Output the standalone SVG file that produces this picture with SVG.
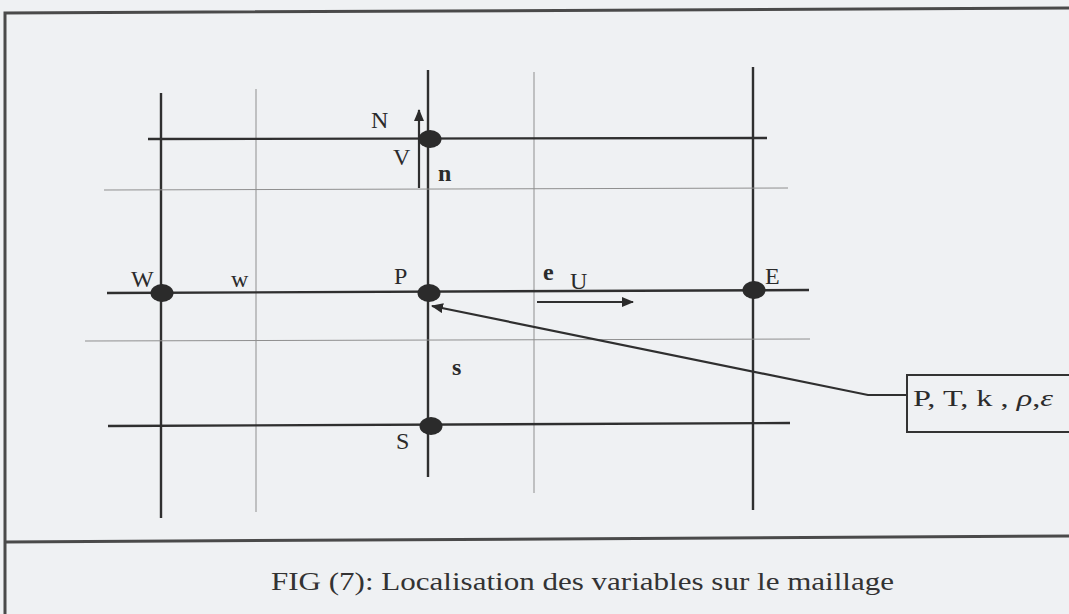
<svg xmlns="http://www.w3.org/2000/svg" width="1069" height="614" viewBox="0 0 1069 614">
<style>
.bg{fill:#eff1f3}
.frame{fill:none;stroke:#4a4a4a;stroke-width:3}
.thick{stroke:#2f2f2f;stroke-width:2.4;fill:none}
.thin{stroke:#8f8f8f;stroke-width:1;fill:none}
.dot{fill:#2b2b2b}
.lbl{font-family:"Liberation Serif","Times New Roman",serif;font-size:24px;fill:#2b2b2b}
.b{font-weight:bold}
.cap{font-family:"Liberation Serif","Times New Roman",serif;font-size:26px;fill:#333}
.arr{stroke:#2f2f2f;stroke-width:2.2;fill:none}
</style>
<defs>
<marker id="ah" viewBox="0 0 12 10" refX="11" refY="5" markerWidth="12" markerHeight="10" markerUnits="userSpaceOnUse" orient="auto">
<path d="M0,0 L12,5 L0,10 Z" fill="#2b2b2b"/>
</marker>
</defs>
<rect class="bg" x="0" y="0" width="1069" height="614"/>
<g id="frame">
<polyline class="frame" points="1069,8 5,13 5,614"/>
<line class="frame" x1="5" y1="542" x2="1069" y2="536"/>
</g>
<g id="grid">
<line class="thick" x1="161" y1="93" x2="161" y2="518"/>
<line class="thin" x1="256" y1="89" x2="256" y2="512"/>
<line class="thick" x1="428" y1="70" x2="428" y2="477"/>
<line class="thin" x1="534" y1="72" x2="534" y2="493"/>
<line class="thick" x1="753" y1="67" x2="753" y2="510"/>
<line class="thick" x1="148" y1="139" x2="767" y2="138"/>
<line class="thin" x1="104" y1="190" x2="788" y2="188"/>
<line class="thick" x1="107" y1="293" x2="809" y2="290"/>
<line class="thin" x1="85" y1="341" x2="810" y2="339"/>
<line class="thick" x1="108" y1="426" x2="790" y2="423"/>
</g>
<g id="connectors">
<line class="arr" x1="419" y1="188" x2="419" y2="110" marker-end="url(#ah)"/>
<line class="arr" x1="537" y1="302" x2="633" y2="302" marker-end="url(#ah)"/>
<polyline class="arr" points="907,395 868,395 432,306" marker-end="url(#ah)"/>
</g>
<g id="node-N">
<ellipse class="dot" cx="430" cy="139" rx="11.5" ry="9"/>
<text class="lbl" x="371" y="128">N</text>
</g>
<g id="node-W">
<ellipse class="dot" cx="162" cy="293" rx="11.5" ry="9"/>
<text class="lbl" x="131" y="287">W</text>
</g>
<g id="node-P">
<ellipse class="dot" cx="429" cy="293" rx="11.5" ry="9"/>
<text class="lbl" x="394" y="284">P</text>
</g>
<g id="node-E">
<ellipse class="dot" cx="754" cy="290" rx="11.5" ry="9"/>
<text class="lbl" x="765" y="284">E</text>
</g>
<g id="node-S">
<ellipse class="dot" cx="431" cy="426" rx="11.5" ry="9"/>
<text class="lbl" x="396" y="449">S</text>
</g>
<g id="faces">
<text class="lbl b" x="438" y="181">n</text>
<text class="lbl" x="231" y="287">w</text>
<text class="lbl b" x="543" y="280" font-size="20">e</text>
<text class="lbl b" x="452" y="375">s</text>
<text class="lbl" x="393" y="165">V</text>
<text class="lbl" x="570" y="289">U</text>
</g>
<g id="node-vars">
<rect x="907" y="375" width="170" height="57" fill="none" stroke="#333" stroke-width="2"/>
<text class="lbl" x="913" y="406" font-size="25" textLength="140" lengthAdjust="spacingAndGlyphs">P, T, k , <tspan font-style="italic">ρ</tspan>,<tspan font-style="italic">ε</tspan></text>
</g>
<g id="caption">
<text class="cap" x="271" y="590" textLength="623" lengthAdjust="spacingAndGlyphs">FIG (7): Localisation des variables sur le maillage</text>
</g>
</svg>
